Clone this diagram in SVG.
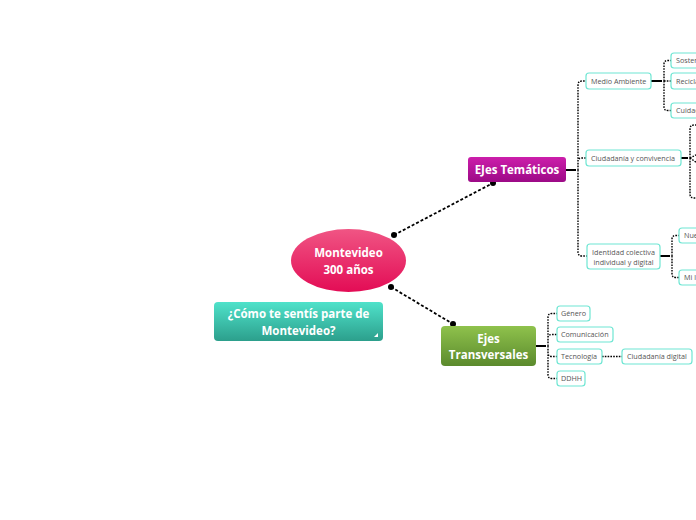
<svg xmlns="http://www.w3.org/2000/svg" width="696" height="520" viewBox="0 0 696 520">
<defs>
<linearGradient id="gPink" x1="0" y1="0" x2="0" y2="1"><stop offset="0" stop-color="#f05584"/><stop offset="1" stop-color="#e30c55"/></linearGradient>
<linearGradient id="gMag" x1="0" y1="0" x2="0" y2="1"><stop offset="0" stop-color="#cc1eab"/><stop offset="1" stop-color="#9c0a86"/></linearGradient>
<linearGradient id="gGreen" x1="0" y1="0" x2="0" y2="1"><stop offset="0" stop-color="#8fc24c"/><stop offset="1" stop-color="#5b8a2d"/></linearGradient>
<linearGradient id="gTeal" x1="0" y1="0" x2="0" y2="1"><stop offset="0" stop-color="#4fe2ca"/><stop offset="1" stop-color="#2c9f8c"/></linearGradient>
</defs>
<style>
.main{font-family:"Open Sans","Liberation Sans",sans-serif;font-weight:bold;fill:#fff;font-size:11.5px;text-anchor:middle}
.sub rect{fill:#fff;stroke:#6fe6d3;stroke-width:1.2}
.sub text{font-family:"Open Sans","Liberation Sans",sans-serif;font-size:7.2px;fill:#555}
.dot{fill:none;stroke:#000;stroke-width:1.4;stroke-dasharray:1.6 1.2}
.stub{fill:none;stroke:#000;stroke-width:2}
.big{fill:none;stroke:#000;stroke-width:1.8;stroke-dasharray:3 2}
</style>
<rect width="696" height="520" fill="#fff"/>
<g id="connectors">
<path class="big" d="M394,235 L493,183"/>
<circle cx="394" cy="235" r="3"/><circle cx="493" cy="183" r="3"/>
<path class="big" d="M391,287 L453,324"/>
<circle cx="391" cy="287" r="3"/><circle cx="453" cy="324" r="3"/>
<path class="stub" d="M566,170 L576,170"/>
<path class="dot" d="M578,170 L578,85 Q578,81 582,81 L586,81 M578,170 L578,161 Q578,158 582,158 L586,158 M578,170 L578,252 Q578,256 582,256 L587,256"/>
<path class="stub" d="M651,81 L662,81"/>
<path class="dot" d="M664,81 L664,64 Q664,60.5 668,60.5 L671,60.5 M664,81 L671,81 M664,81 L664,107 Q664,110.5 668,110.5 L671,110.5"/>
<path class="stub" d="M681,158 L688,158"/>
<path class="dot" d="M690,158 L690,129 Q690,125 694,125 L700,125 M690,158 L690,194 Q690,198 694,198 L700,198 M690,158 L700,153 M690,158 L700,165"/>
<path class="stub" d="M660,256 L670,256"/>
<path class="dot" d="M672,256 L672,239 Q672,235.5 676,235.5 L679,235.5 M672,256 L672,274 Q672,277.5 676,277.5 L679,277.5"/>
<path class="stub" d="M536,346 L546,346"/>
<path class="dot" d="M548,346 L548,317 Q548,313.5 552,313.5 L557,313.5 M548,346 L548,338 Q548,334.5 552,334.5 L557,334.5 M548,346 L548,353 Q548,356.5 552,356.5 L557,356.5 M548,346 L548,375 Q548,378.5 552,378.5 L557,378.5"/>
<path class="dot" d="M602,356.5 L622,356.5"/>
</g>
<g id="center">
<ellipse cx="348.5" cy="260.5" rx="57.5" ry="31.5" fill="url(#gPink)"/>
<text class="main" x="348.5" y="257">Montevideo</text>
<text class="main" x="348.5" y="274">300 años</text>
</g>
<g id="ejes-tematicos">
<rect x="468" y="157" width="98" height="25" rx="3" fill="url(#gMag)"/>
<text class="main" x="517" y="174">EJes Temáticos</text>
</g>
<g id="ejes-transversales">
<rect x="441" y="326" width="95" height="40" rx="4" fill="url(#gGreen)"/>
<text class="main" x="488.5" y="343">Ejes</text>
<text class="main" x="488.5" y="359">Transversales</text>
</g>
<g id="pregunta">
<rect x="214" y="302" width="169" height="39" rx="4" fill="url(#gTeal)"/>
<text class="main" x="298.5" y="318">¿Cómo te sentís parte de</text>
<text class="main" x="298.5" y="335">Montevideo?</text>
<path d="M378,333 L378,337 L374,337 Z" fill="#fff"/>
</g>
<g id="medio-ambiente" class="sub"><rect x="586" y="73" width="65" height="16" rx="3"/><text x="591" y="83.5">Medio Ambiente</text></g>
<g id="ciudadania" class="sub"><rect x="586" y="150" width="95" height="16" rx="3"/><text x="591" y="160.5">Ciudadanía y convivencia</text></g>
<g id="identidad" class="sub"><rect x="587" y="244" width="73" height="25" rx="3"/><text x="623.5" y="255" text-anchor="middle">Identidad colectiva</text><text x="623.5" y="264.5" text-anchor="middle">individual y digital</text></g>
<g id="sostenibilidad" class="sub"><rect x="671" y="53" width="60" height="15" rx="3"/><text x="676" y="63">Sostenibilidad</text></g>
<g id="reciclaje" class="sub"><rect x="671" y="73" width="60" height="16" rx="3"/><text x="676" y="83.5">Reciclaje</text></g>
<g id="cuidado" class="sub"><rect x="671" y="103" width="60" height="15" rx="3"/><text x="676" y="113">Cuidado</text></g>
<g id="nuestra" class="sub"><rect x="679" y="228" width="60" height="15" rx="3"/><text x="684" y="238">Nuestra</text></g>
<g id="mi-lugar" class="sub"><rect x="679" y="270" width="60" height="15" rx="3"/><text x="684" y="280">Mi lugar</text></g>
<g id="genero" class="sub"><rect x="557" y="306" width="33" height="15" rx="3"/><text x="561" y="316">Género</text></g>
<g id="comunicacion" class="sub"><rect x="557" y="327" width="56" height="15" rx="3"/><text x="561" y="337">Comunicación</text></g>
<g id="tecnologia" class="sub"><rect x="557" y="349" width="45" height="15" rx="3"/><text x="561" y="359">Tecnología</text></g>
<g id="ddhh" class="sub"><rect x="557" y="371" width="28" height="15" rx="3"/><text x="561" y="381">DDHH</text></g>
<g id="ciudadania-digital" class="sub"><rect x="622" y="349" width="70" height="15" rx="3"/><text x="627" y="359">Ciudadanía digital</text></g>
</svg>
